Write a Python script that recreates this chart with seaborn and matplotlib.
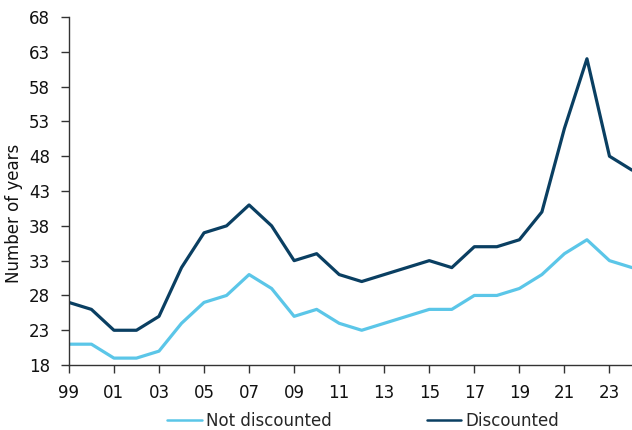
import numpy as np
import pandas as pd
import seaborn as sns
import matplotlib.pyplot as plt

years = list(range(1999, 2025))
not_discounted = [21, 21, 19, 19, 20, 24, 27, 28, 31, 29, 25, 26, 24, 23, 24, 25, 26, 26, 28, 28, 29, 31, 34, 36, 33, 32]
discounted = [27, 26, 23, 23, 25, 32, 37, 38, 41, 38, 33, 34, 31, 30, 31, 32, 33, 32, 35, 35, 36, 40, 52, 62, 48, 46]
series_names = ['Not discounted', 'Discounted']
colors = ['#5BC6E8', '#0A3F62']
y_ticks = list(range(18, 69, 5))
x_ticks = list(range(1999, 2024, 2))

df = pd.DataFrame({'year': years * 2,
                   'value': not_discounted + discounted,
                   'series': [series_names[0]] * len(years) + [series_names[1]] * len(years)})

sns.set_style('white')
plt.rcParams['font.family'] = ['DejaVu Sans']

fig = plt.figure(figsize=(6.32, 4.30), dpi=100)
ax = fig.add_axes([0.109, 0.151, 0.891, 0.8095])
sns.lineplot(data=df, x='year', y='value', hue='series', palette=colors,
             hue_order=series_names, linewidth=2.3, ax=ax, legend=False)

ax.set_xlim(1999, 2024)
ax.set_ylim(18, 68)
ax.set_yticks(y_ticks)
ax.set_xticks(x_ticks)
ax.set_xticklabels([f'{y % 100:02d}' for y in x_ticks])
ax.set_xlabel('')
ax.set_ylabel('Number of years', fontsize=12, color='#111111')
ax.yaxis.set_label_coords(-0.082, 0.437)
ax.tick_params(axis='both', labelsize=12, length=6, width=1, direction='out', pad=7.5,
               color='#333333', labelcolor='#111111', bottom=True, left=True)
for s in ['top', 'right']:
    ax.spines[s].set_visible(False)
for s in ['left', 'bottom']:
    ax.spines[s].set_color('#333333')
    ax.spines[s].set_linewidth(1)

handles = [plt.Line2D([], [], color=c, linewidth=1.8) for c in colors]
fig.legend(handles, series_names, loc='center', bbox_to_anchor=(0.575, 0.021),
           ncol=2, frameon=False, fontsize=12, handlelength=2.05,
           handletextpad=0.25, columnspacing=5.75, borderpad=0)

fig.savefig('out.png', dpi=100)
